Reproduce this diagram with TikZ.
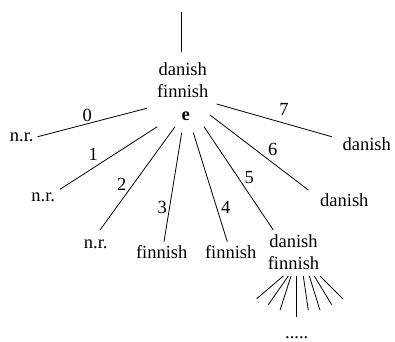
\documentclass[tikz,border=0pt]{standalone}
\usepackage{fontspec}
\setmainfont{Liberation Serif}
\begin{document}
\begin{tikzpicture}[x=1pt,y=-1pt,
  lbl/.style={font=\fontsize{18.5}{22}\selectfont,inner sep=0pt,anchor=base},
  lbl2/.style={font=\fontsize{18.5}{22}\selectfont,inner sep=0pt,align=center,anchor=center},
  edge/.style={line width=0.8pt}]
\useasboundingbox (0,0) rectangle (395,341);
% nodes
\node[lbl2] (root) at (182.7,80.6) {danish\\finnish};
\node[lbl,font=\fontsize{18.5}{22}\selectfont\bfseries] (e) at (185.7,120.7) {e};
\node[lbl] (n0) at (21.7,141.7) {n.r.};
\node[lbl] (n1) at (43.3,201.7) {n.r.};
\node[lbl] (n2) at (95.7,248.3) {n.r.};
\node[lbl] (n3) at (161.7,258.3) {finnish};
\node[lbl] (n4) at (230.7,258.3) {finnish};
\node[lbl2] (n5) at (293.5,252.3) {danish\\finnish};
\node[lbl] (n6) at (344.3,206.7) {danish};
\node[lbl] (n7) at (366.7,150) {danish};
\node[lbl] (dots) at (296.7,338.2) {.....};
% edge labels
\node[lbl] (l0) at (87.3,121.7) {0};
\node[lbl] (l1) at (93.3,160.7) {1};
\node[lbl] (l2) at (121.7,190) {2};
\node[lbl] (l3) at (162.3,213.3) {3};
\node[lbl] (l4) at (225.7,213.3) {4};
\node[lbl] (l5) at (249.3,183.3) {5};
\node[lbl] (l6) at (272.7,155) {6};
\node[lbl] (l7) at (284,115) {7};
% connector end points
\coordinate (top) at (181.3,11.7);
\coordinate (rt) at (181.3,51.7);
\coordinate (a0) at (146.7,108.3); \coordinate (b0) at (37.7,136.7);
\coordinate (a1) at (157.3,126.7); \coordinate (b1) at (60,189.3);
\coordinate (a2) at (175,126.7);   \coordinate (b2) at (100,230);
\coordinate (a3) at (181.7,132.7); \coordinate (b3) at (164,241.7);
\coordinate (a4) at (193.3,132.7); \coordinate (b4) at (227.3,241.7);
\coordinate (a5) at (204,126.7);   \coordinate (b5) at (273.3,230);
\coordinate (a6) at (210,115);     \coordinate (b6) at (308.3,190);
\coordinate (a7) at (216.7,104);   \coordinate (b7) at (331.7,136.7);
% fan below node 5
\coordinate (f1a) at (283.3,276); \coordinate (f1b) at (256.7,298.7);
\coordinate (f2a) at (288.3,276); \coordinate (f2b) at (268.3,304.7);
\coordinate (f3a) at (291,276);   \coordinate (f3b) at (280,310.3);
\coordinate (f4a) at (296.7,276); \coordinate (f4b) at (296.7,317);
\coordinate (f5a) at (303.3,276); \coordinate (f5b) at (308.3,310.3);
\coordinate (f6a) at (309.3,276); \coordinate (f6b) at (320,310.3);
\coordinate (f7a) at (314.3,276); \coordinate (f7b) at (331.7,304.7);
\coordinate (f8a) at (320,276);   \coordinate (f8b) at (342.7,298.7);
% connectors
\draw[edge] (top) -- (rt);
\foreach \i in {0,...,7} { \draw[edge] (a\i) -- (b\i); }
\foreach \i in {1,...,8} { \draw[edge] (f\i a) -- (f\i b); }
\end{tikzpicture}
\end{document}
